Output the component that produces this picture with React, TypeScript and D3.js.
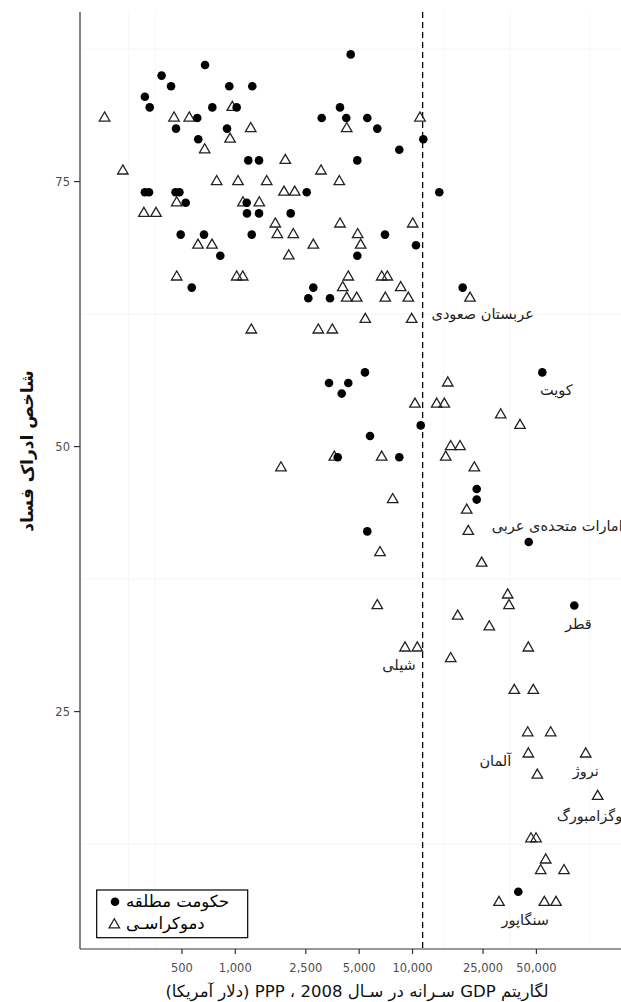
import React from "react";
import * as d3 from "d3";

// [GDP per capita PPP 2008 (USD), corruption perception index]
const autocracyGdp = [675, 384, 434, 925, 1247, 309, 329, 742, 1018, 610, 463, 898, 618, 1184, 1361, 309, 326, 460, 484, 525, 1160, 1164, 1361, 2054, 2529, 492, 666, 1238, 823, 568, 2582, 4478, 3897, 3072, 4229, 5556, 6327, 11500, 8419, 4879, 14154, 6991, 10459, 4879, 2755, 3422, 19183, 53967, 5392, 3378, 4340, 3985, 11119, 5755, 3783, 8419, 23013, 23013, 5556, 45236, 81780, 39500];
const autocracyCpi = [86, 85, 84, 84, 84, 83, 82, 82, 82, 81, 80, 80, 79, 77, 77, 74, 74, 74, 74, 73, 73, 72, 72, 72, 74, 70, 70, 70, 68, 65, 64, 87, 82, 81, 81, 81, 80, 79, 78, 77, 74, 70, 69, 68, 65, 64, 65, 57, 57, 56, 56, 55, 52, 51, 49, 49, 46, 45, 42, 41, 35, 8];

const democracyGdp = [183, 232, 451, 550, 962, 1222, 934, 672, 1915, 785, 1036, 1504, 1882, 2164, 467, 305, 357, 1105, 1366, 1681, 1726, 2124, 616, 739, 2002, 467, 1018, 1101, 1231, 11016, 4252, 3044, 3861, 3897, 10020, 4904, 5098, 2755, 4340, 4037, 6698, 7204, 8576, 4252, 4841, 7019, 9465, 21095, 5413, 9889, 2939, 3526, 1810, 15798, 10323, 13685, 15110, 31432, 40377, 16416, 18525, 15388, 3619, 6698, 22310, 7728, 20216, 20632, 6551, 24548, 34418, 35010, 6327, 17982, 27106, 9066, 10637, 44996, 16416, 37497, 48000, 44648, 60171, 44996, 94830, 50570, 110800, 46590, 49730, 56405, 52840, 71540, 30740, 55395, 64478];
const democracyCpi = [81, 76, 81, 81, 82, 80, 79, 78, 77, 75, 75, 75, 74, 74, 73, 72, 72, 73, 73, 71, 70, 70, 69, 69, 68, 66, 66, 66, 61, 81, 80, 76, 75, 71, 71, 70, 69, 69, 66, 65, 66, 66, 65, 64, 64, 64, 64, 64, 62, 62, 61, 61, 48, 56, 54, 54, 54, 53, 52, 50, 50, 49, 49, 49, 48, 45, 44, 42, 40, 39, 36, 35, 35, 34, 33, 31, 31, 31, 30, 27, 27, 23, 23, 21, 21, 19, 17, 13, 13, 11, 10, 10, 7, 7, 7];

const labelNames = ["عربستان صعودی", "کویت", "امارات متحده‌ی عربی", "قطر", "شیلی", "آلمان", "نروژ", "لوگزامبورگ", "سنگاپور"];
const labelGdp = [19183, 53967, 45236, 81780, 9066, 44996, 94830, 110800, 39500];
const labelCpi = [65, 57, 41, 35, 31, 21, 21, 17, 8];
const labelDx = [20, 14, -37, 4, -6, -17, 0, -41, 7];
const labelDy = [26, 18, -16, 18, 17, 7, 17, 20, 28];
const labelAnchor = ["middle", "middle", "start", "middle", "middle", "end", "middle", "start", "middle"];

const xTicks = [500, 1000, 2500, 5000, 10000, 25000, 50000];
const yTicks = [25, 50, 75];
const yMinor = [12.5, 37.5, 62.5, 87.5];
const xMinor = [250, 354, 15000, 35400, 100000];
const threshold = 11400;

const legendItems = ["حکومت مطلقه", "دموکراسـی"];

const W = 621;
const H = 1002;
const FONT = "'DejaVu Sans', sans-serif";

export default function App() {
  const x = d3.scaleLog().domain([133, 177600]).range([80, 634]);
  const y = d3.scaleLinear().domain([2.6, 91]).range([949, 12]);
  const tri = d3.symbol(d3.symbolTriangle, 47.7)();
  const fmt = d3.format(",");
  const [x0, x1] = x.range();
  const [yb, yt] = y.range();

  return (
    <svg
      width={W}
      height={H}
      style={{ position: "absolute", left: 0, top: 0, background: "#fff" }}
      fontFamily={FONT}
    >
      <rect x={0} y={0} width={W} height={H} fill="#fff" />
      {/* faint grid */}
      {yMinor.map((v) => (
        <line key={"ym" + v} x1={x0} x2={x1} y1={y(v)} y2={y(v)} stroke="#f3f3f3" strokeWidth={0.8} />
      ))}
      {xMinor.map((v) => (
        <line key={"xm" + v} x1={x(v)} x2={x(v)} y1={yt} y2={yb} stroke="#f5f5f5" strokeWidth={0.8} />
      ))}
      {/* threshold */}
      <line x1={x(threshold)} x2={x(threshold)} y1={yt} y2={yb} stroke="#000" strokeWidth={1.3} strokeDasharray="6,4" />
      {/* democracy triangles */}
      {democracyGdp.map((g, i) => (
        <path
          key={"d" + i}
          d={tri}
          transform={`translate(${x(g)},${y(democracyCpi[i])})`}
          fill="none"
          stroke="#222"
          strokeWidth={1.3}
        />
      ))}
      {/* autocracy circles */}
      {autocracyGdp.map((g, i) => (
        <circle key={"a" + i} cx={x(g)} cy={y(autocracyCpi[i])} r={4.3} fill="#000" />
      ))}
      {/* labels */}
      {labelNames.map((n, i) => (
        <text
          key={"l" + i}
          x={x(labelGdp[i]) + labelDx[i]}
          y={y(labelCpi[i]) + labelDy[i]}
          textAnchor={labelAnchor[i]}
          dominantBaseline="central"
          fontSize={14.5}
          fill="#222"
        >
          {n}
        </text>
      ))}
      {/* axes */}
      <line x1={x0} x2={x0} y1={yt} y2={yb} stroke="#333" strokeWidth={1.2} />
      <line x1={x0} x2={x1} y1={yb} y2={yb} stroke="#333" strokeWidth={1.2} />
      {yTicks.map((t) => (
        <g key={"yt" + t}>
          <line x1={x0 - 6} x2={x0} y1={y(t)} y2={y(t)} stroke="#333" strokeWidth={1.2} />
          <text x={x0 - 10} y={y(t)} textAnchor="end" dominantBaseline="central" fontSize={11.5} fill="#4d4d4d">
            {t}
          </text>
        </g>
      ))}
      {xTicks.map((t) => (
        <g key={"xt" + t}>
          <line x1={x(t)} x2={x(t)} y1={yb} y2={yb + 5} stroke="#333" strokeWidth={1.2} />
          <text x={x(t)} y={yb + 19} textAnchor="middle" dominantBaseline="central" fontSize={11.5} fill="#4d4d4d">
            {fmt(t)}
          </text>
        </g>
      ))}
      {/* axis titles */}
      <text
        x={357}
        y={991}
        textAnchor="middle"
        dominantBaseline="central"
        fontSize={16.5}
        fill="#111"
        style={{ direction: "rtl", unicodeBidi: "embed" }}
      >
        لگاریتم GDP سـرانه در سـال 2008 ، PPP (دلار آمریکا)
      </text>
      <text
        transform={`translate(27,451) rotate(-90)`}
        textAnchor="middle"
        dominantBaseline="central"
        fontSize={17}
        fontWeight="bold"
        fill="#111"
        style={{ direction: "rtl", unicodeBidi: "embed" }}
      >
        شاخص ادراک فساد
      </text>
      {/* legend */}
      <rect x={96.7} y={890} width={151} height={47.7} fill="#fff" stroke="#000" strokeWidth={1.2} />
      <circle cx={115} cy={901.7} r={4.3} fill="#000" />
      <path d={tri} transform="translate(114.3,924.8)" fill="none" stroke="#222" strokeWidth={1.3} />
      {legendItems.map((t, i) => (
        <text key={"lg" + i} x={126} y={901.7 + i * 21.6} textAnchor="start" dominantBaseline="central" fontSize={16.5} fill="#000">
          {t}
        </text>
      ))}
    </svg>
  );
}
